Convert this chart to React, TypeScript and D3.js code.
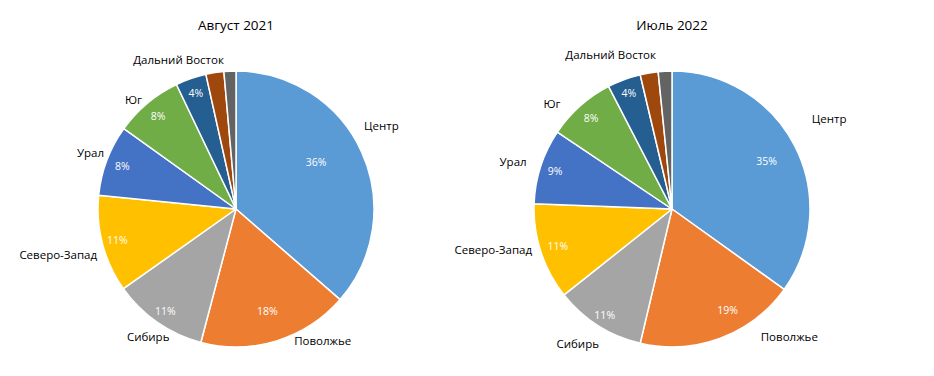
import React from "react";
import * as d3 from "d3";

const regions = ["Центр", "Поволжье", "Сибирь", "Северо-Запад", "Урал", "Юг", "Дальний Восток", "Прочие 1", "Прочие 2"];
const showLabel = [true, true, true, true, true, true, true, false, false];
const values2021 = [36.4, 17.7, 11.1, 11.4, 8.3, 8.0, 3.6, 2.1, 1.4];
const values2022 = [34.9, 18.8, 10.6, 11.3, 8.8, 8.0, 3.9, 2.1, 1.6];
const titles = ["Август 2021", "Июль 2022"];

const colors = ["#5B9BD5", "#ED7D31", "#A5A5A5", "#FFC000", "#4472C4", "#70AD47", "#255E91", "#9E480E", "#636363"];

const W = 934, H = 376;
const R = 138;
const FONT = "'Open Sans', 'Noto Sans', sans-serif";

// style config: label placement tweaks (Excel best-fit behaviour)
const charts = [
  {
    values: values2021, title: titles[0], cx: 236, cy: 209,
    inner: [0.67, 0.77, 0.9, 0.89, 0.88, 0.88, 0.89],
    innerNudge: [[-4, -9], [0, 0], [0, 0], [0, 0], [0, 0], [0, 0], [0, 0]],
    nudge: [[0, -21], [37, -13], [5, 3], [-2, 7], [1, -3], [-6, 6], [4, -7]],
  },
  {
    values: values2022, title: titles[1], cx: 672, cy: 209,
    inner: [0.77, 0.84, 0.91, 0.87, 0.89, 0.88, 0.9],
    innerNudge: [[0, 1], [15, -8], [0, 0], [0, 0], [0, 0], [0, 0], [0, 0]],
    nudge: [[15, -22], [58, -14], [-7, 7], [-6, -7], [-10, -1], [-20, 7], [4, -13]],
  },
];

function Pie({ cfg }: { cfg: any }) {
  const pie = d3.pie<number>().sort(null).value((d) => d);
  const arcs = pie(cfg.values);
  const arc = d3.arc<d3.PieArcDatum<number>>().innerRadius(0).outerRadius(R);
  const total = d3.sum(cfg.values as number[]);
  return (
    <g>
      <text x={cfg.cx} y={30} textAnchor="middle" fontFamily={FONT} fontSize={13.5} fill="#000">
        {cfg.title}
      </text>
      <g transform={`translate(${cfg.cx},${cfg.cy})`}>
        {arcs.map((a, i) => (
          <path key={i} d={arc(a) || ""} fill={colors[i]} stroke="#fff" strokeWidth={1.5} strokeLinejoin="round" />
        ))}
        {arcs.map((a, i) => {
          if (!showLabel[i]) return null;
          const mid = (a.startAngle + a.endAngle) / 2;
          const f = cfg.inner[i];
          const x = Math.sin(mid) * R * f + cfg.innerNudge[i][0];
          const y = -Math.cos(mid) * R * f + cfg.innerNudge[i][1];
          return (
            <text key={"p" + i} x={x} y={y} textAnchor="middle" dominantBaseline="central"
              fontFamily={FONT} fontSize={10.5} fill="#fff">
              {Math.round((a.value / total) * 100)}%
            </text>
          );
        })}
        {arcs.map((a, i) => {
          if (!showLabel[i]) return null;
          const mid = (a.startAngle + a.endAngle) / 2;
          const s = Math.sin(mid), c = -Math.cos(mid);
          const px = s * (R + 6), py = c * (R + 6);
          const w = regions[i].length * 6.3, h = 14;
          const x = px + (w / 2) * s + cfg.nudge[i][0];
          const y = py + (h / 2) * c + cfg.nudge[i][1];
          return (
            <text key={"l" + i} x={x} y={y} textAnchor="middle" dominantBaseline="central"
              fontFamily={FONT} fontSize={11.5} fill="#000">
              {regions[i]}
            </text>
          );
        })}
      </g>
    </g>
  );
}

export default function App() {
  return (
    <svg width={W} height={H} style={{ position: "absolute", left: 0, top: 0, background: "#fff" }}>
      <rect width={W} height={H} fill="#fff" />
      {charts.map((c, i) => (
        <Pie key={i} cfg={c} />
      ))}
    </svg>
  );
}
